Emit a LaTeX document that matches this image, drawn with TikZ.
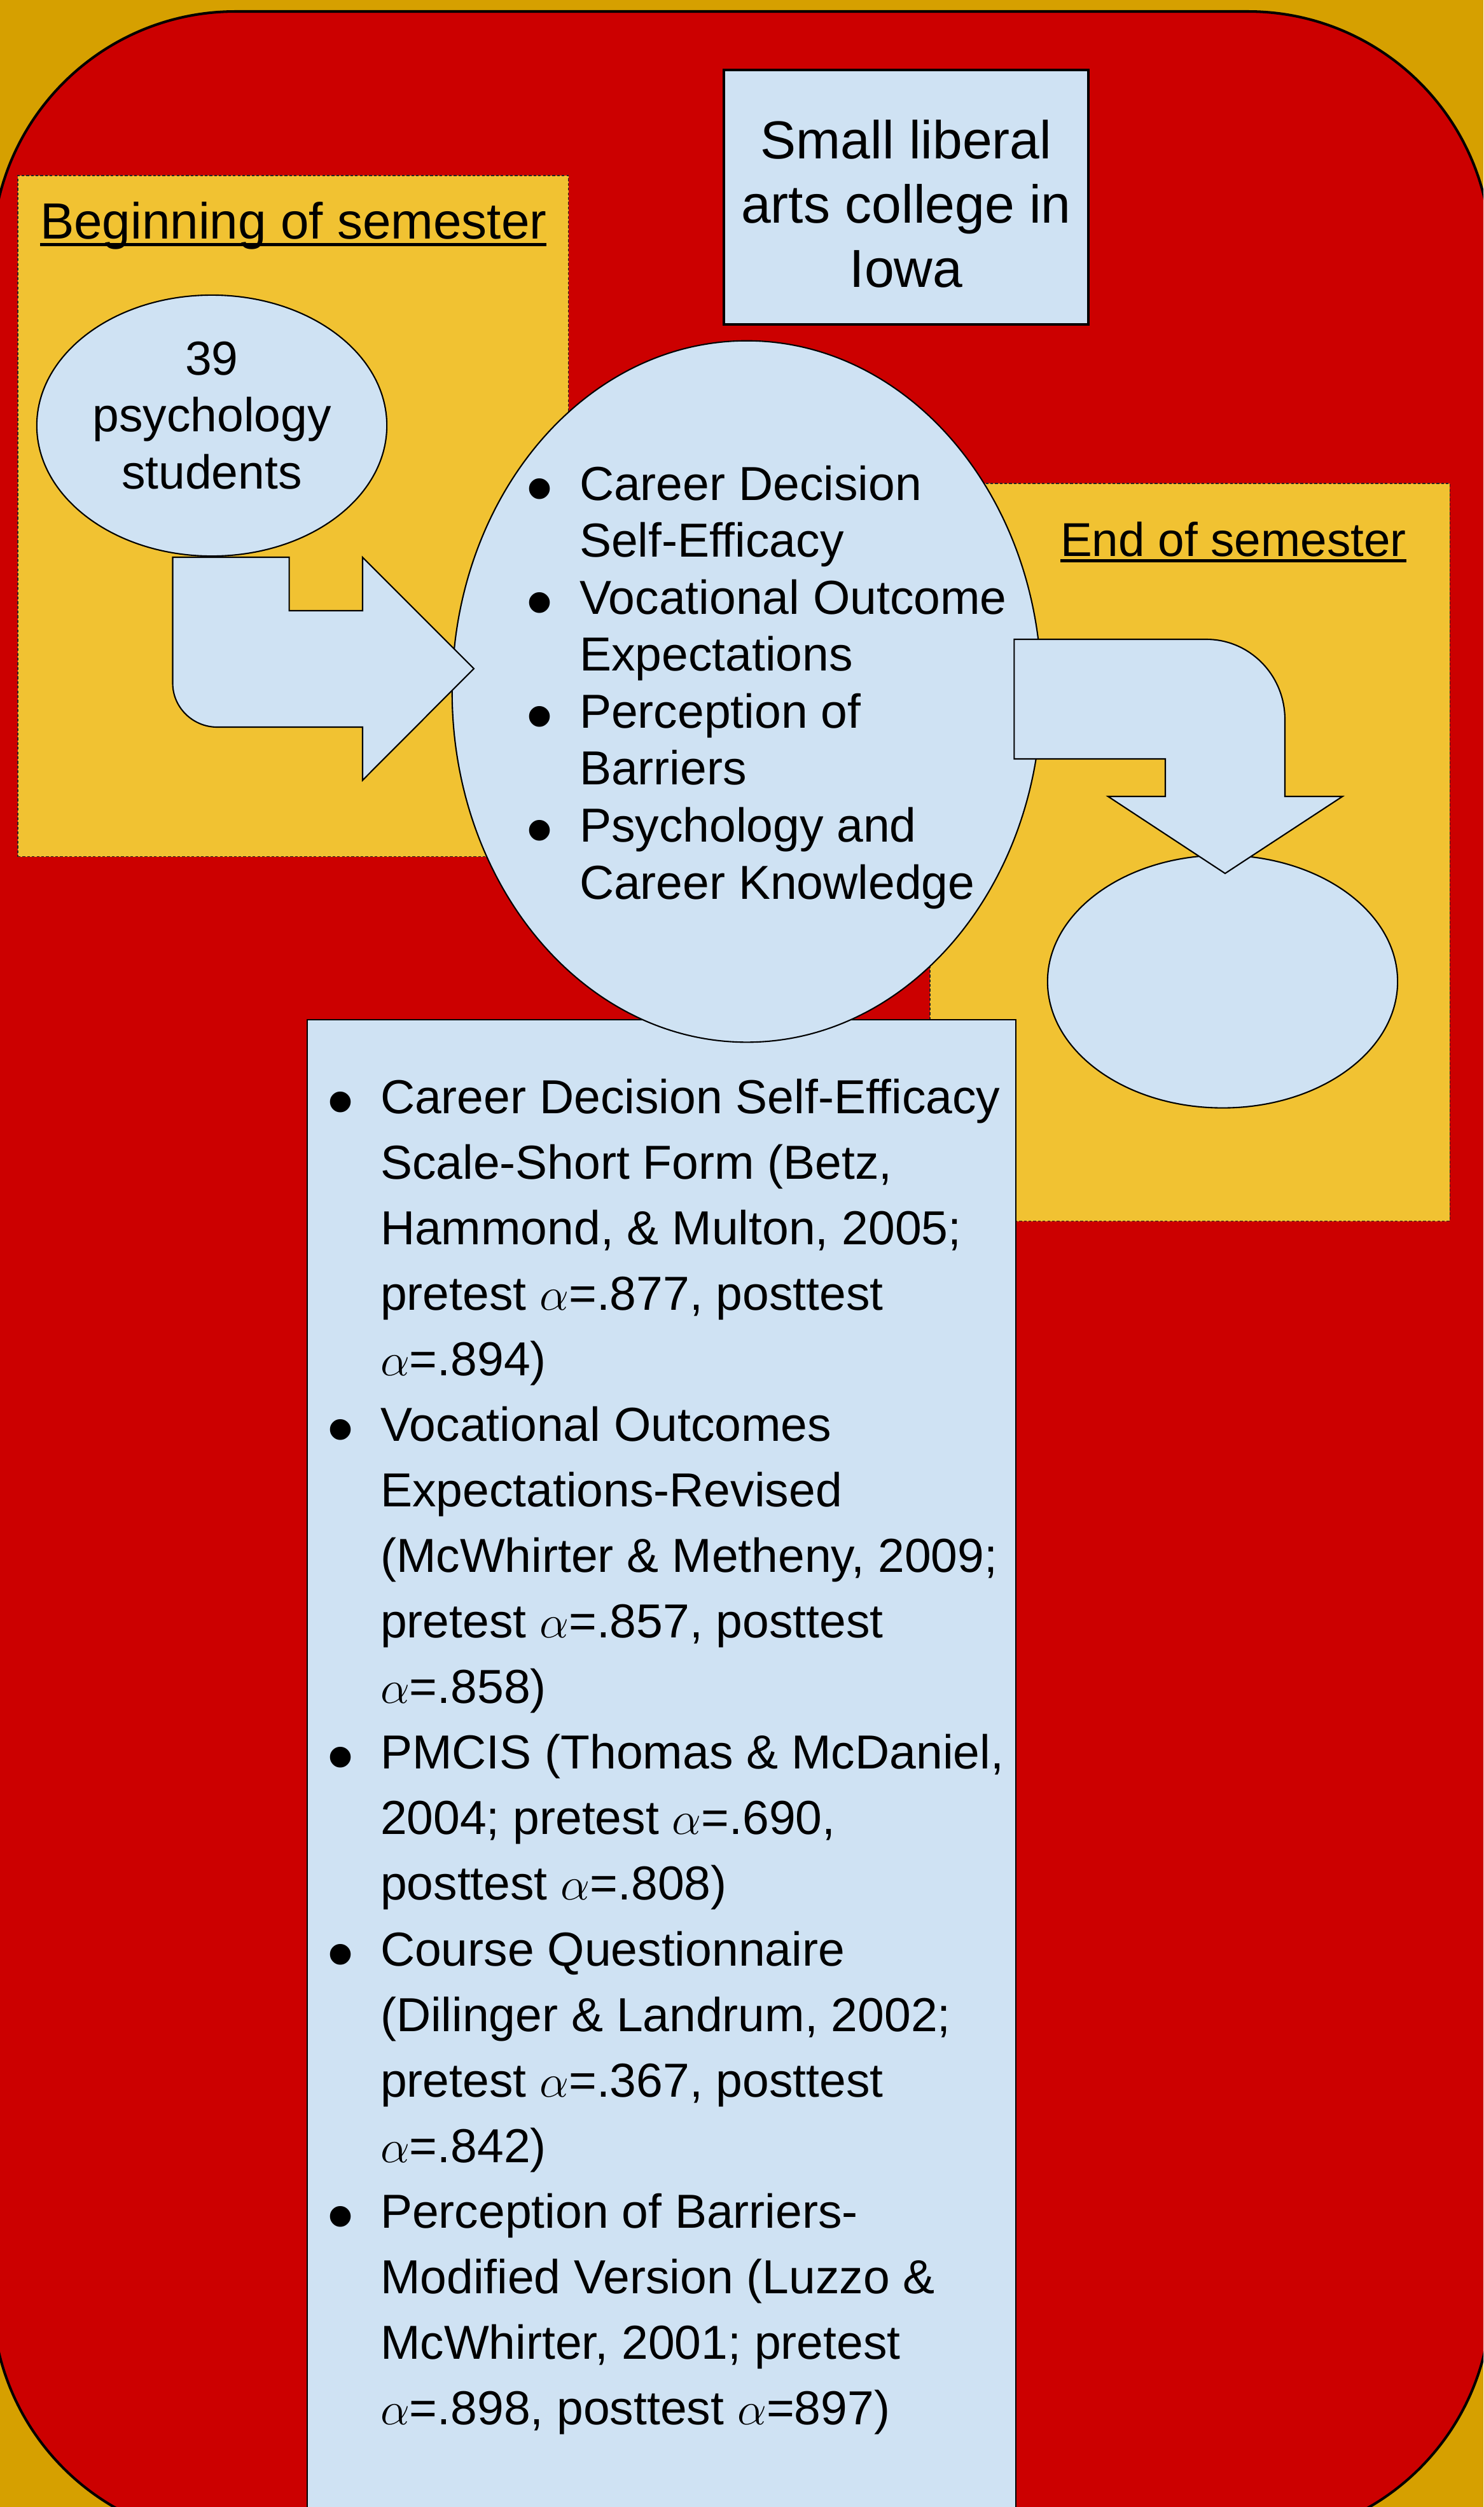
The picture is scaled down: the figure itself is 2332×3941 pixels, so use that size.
\documentclass[tikz,border=0pt]{standalone}
\usepackage{fontspec}
\setmainfont{Liberation Sans}
\usepackage{graphicx}
\usetikzlibrary{shapes.geometric}
\newdimen\px \px=0.28453pt
\definecolor{gold}{RGB}{214,160,0}
\definecolor{dred}{RGB}{204,0,0}
\definecolor{dyel}{RGB}{241,194,50}
\definecolor{lblue}{RGB}{207,226,243}
\newcommand\bul{\makebox[84\px][l]{\raisebox{-22\px}{\scalebox{1.6}{\textbullet}}}}
\newcommand\ind{\hspace*{84\px}}
\newcommand\fst[1]{\rule{0pt}{#1\px}}
\begin{document}
\begin{tikzpicture}[x=0.01cm,y=-0.01cm,
  every node/.style={inner sep=0pt, outer sep=0pt},
  ybox/.style={fill=dyel, draw=black!85, line width=0.4pt, dash pattern=on 1.2pt off 0.9pt},
  bshape/.style={fill=lblue, draw=black, line width=0.6pt},
  txt/.style={font=\fontsize{21.34pt}{25.47pt}\selectfont},
  ulined/.style={line width=1.5pt}]
\useasboundingbox (0,0) rectangle (2332,3941);
\clip (0,0) rectangle (2332,3941);
\fill[gold] (0,0) rectangle (2332,3941);
\draw[fill=dred, line width=1.15pt, rounded corners=3.82cm] (-12,18) rectangle (2344,3992);

% regions
\node (begbox) [ybox, anchor=north west, minimum width=8.65cm, minimum height=10.70cm] at (28,276) {};
\node (endbox) [ybox, anchor=north west, minimum width=8.17cm, minimum height=11.59cm] at (1462,760) {};
\node (iowa) [fill=lblue, draw=black, line width=1.1pt, anchor=north west, minimum width=5.73cm, minimum height=4.00cm] at (1138,110) {};
\node (measures) [bshape, line width=0.55pt, anchor=north west, minimum width=11.13cm, minimum height=24cm] at (483,1603) {};
\node (constructs) [ellipse, bshape, minimum width=9.26cm, minimum height=11.02cm] at (1174,1087) {};
\node (students) [ellipse, bshape, minimum width=5.50cm, minimum height=4.10cm] at (333,669) {};

% bent arrow from students to constructs
\draw[bshape, line join=miter] (271.5,876) -- (454.6,876) -- (454.6,960) -- (570,960) -- (570,876)
  -- (745,1051) -- (570,1226.5) -- (570,1143) -- (341.6,1143)
  .. controls (303,1143) and (271.5,1112) .. (271.5,1074) -- cycle;

\node (outcome) [ellipse, bshape, minimum width=5.50cm, minimum height=3.97cm] at (1922,1543) {};

% bent arrow from constructs to outcome
\draw[bshape, line join=miter] (1594.4,1005) -- (1896.4,1005)
  .. controls (1964.8,1005) and (2020,1061.4) .. (2020,1131)
  -- (2020,1252) -- (2110.5,1252) -- (1926,1373) -- (1742,1252) -- (1832,1252)
  -- (1832,1193) -- (1594.4,1193) -- cycle;

% texts
\node (iowatext) [anchor=north, align=center, font=\fontsize{23.9pt}{28.74pt}\selectfont] at (1424.5,174)
  {\fst{75}Small liberal\\arts college in\\Iowa};

\node (begtitle) [anchor=base west, font=\fontsize{22.76pt}{27pt}\selectfont] at (63,375) {Beginning of semester};
\draw[ulined] ([yshift=-2.6pt]begtitle.base west) -- ([yshift=-2.6pt]begtitle.base east);

\node (endtitle) [anchor=base west, font=\fontsize{21.23pt}{25pt}\selectfont] at (1667,874) {End of semester};
\draw[ulined] ([yshift=-2.2pt]endtitle.base west) -- ([yshift=-2.2pt]endtitle.base east);

\node (studtext) [txt, anchor=north, align=center] at (333,519)
  {\fst{70}39\\psychology\\students};

\node (constext) [txt, anchor=north west, align=left] at (827,716)
  {\fst{70}\bul Career Decision\\
   \ind Self-Efficacy\\
   \bul Vocational Outcome\\
   \ind Expectations\\
   \bul Perception of\\
   \ind Barriers\\
   \bul Psychology and\\
   \ind Career Knowledge};

\node (meastext) [anchor=north west, align=left, font=\fontsize{21.34pt}{29.31pt}\selectfont] at (514,1680)
  {\fst{70}\bul Career Decision Self-Efficacy\\
   \ind Scale-Short Form (Betz,\\
   \ind Hammond, \& Multon, 2005;\\
   \ind pretest $\alpha$=.877, posttest\\
   \ind $\alpha$=.894)\\
   \bul Vocational Outcomes\\
   \ind Expectations-Revised\\
   \ind (McWhirter \& Metheny, 2009;\\
   \ind pretest $\alpha$=.857, posttest\\
   \ind $\alpha$=.858)\\
   \bul PMCIS (Thomas \& McDaniel,\\
   \ind 2004; pretest $\alpha$=.690,\\
   \ind posttest $\alpha$=.808)\\
   \bul Course Questionnaire\\
   \ind (Dilinger \& Landrum, 2002;\\
   \ind pretest $\alpha$=.367, posttest\\
   \ind $\alpha$=.842)\\
   \bul Perception of Barriers-\\
   \ind Modified Version (Luzzo \&\\
   \ind McWhirter, 2001; pretest\\
   \ind $\alpha$=.898, posttest $\alpha$=897)};
\end{tikzpicture}
\end{document}
